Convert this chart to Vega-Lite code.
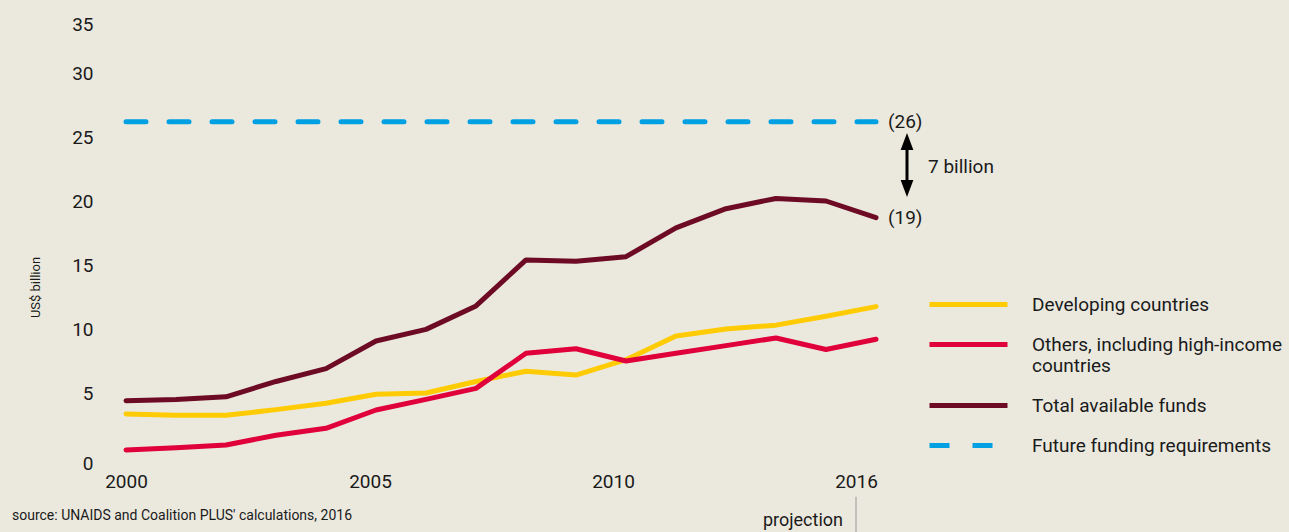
{
  "$schema": "https://vega.github.io/schema/vega-lite/v6.json",
  "width": 750,
  "height": 448,
  "autosize": {"type": "none"},
  "padding": {"left": 126, "top": 9, "right": 413, "bottom": 75},
  "background": "#EBE9DE",
  "title": {
    "text": "source: UNAIDS and Coalition PLUS' calculations, 2016",
    "orient": "bottom",
    "anchor": "start",
    "frame": "group",
    "dx": -114,
    "offset": -24,
    "font": "Roboto",
    "fontSize": 14,
    "fontWeight": "normal",
    "color": "#1a1a1a"
  },
  "config": {
    "view": {"stroke": null},
    "font": "Roboto"
  },
  "datasets": {
    "series": [
      {"year": 2000, "series": "Developing countries", "value": 3.36},
      {"year": 2001, "series": "Developing countries", "value": 3.26},
      {"year": 2002, "series": "Developing countries", "value": 3.26},
      {"year": 2003, "series": "Developing countries", "value": 3.7},
      {"year": 2004, "series": "Developing countries", "value": 4.2},
      {"year": 2005, "series": "Developing countries", "value": 4.9},
      {"year": 2006, "series": "Developing countries", "value": 5.0},
      {"year": 2007, "series": "Developing countries", "value": 5.9},
      {"year": 2008, "series": "Developing countries", "value": 6.7},
      {"year": 2009, "series": "Developing countries", "value": 6.4},
      {"year": 2010, "series": "Developing countries", "value": 7.6},
      {"year": 2011, "series": "Developing countries", "value": 9.45},
      {"year": 2012, "series": "Developing countries", "value": 10.0},
      {"year": 2013, "series": "Developing countries", "value": 10.3},
      {"year": 2014, "series": "Developing countries", "value": 11.0},
      {"year": 2015, "series": "Developing countries", "value": 11.75},
      {"year": 2000, "series": "Others, including high-income countries", "value": 0.55},
      {"year": 2001, "series": "Others, including high-income countries", "value": 0.73},
      {"year": 2002, "series": "Others, including high-income countries", "value": 0.94},
      {"year": 2003, "series": "Others, including high-income countries", "value": 1.7},
      {"year": 2004, "series": "Others, including high-income countries", "value": 2.24},
      {"year": 2005, "series": "Others, including high-income countries", "value": 3.67},
      {"year": 2006, "series": "Others, including high-income countries", "value": 4.5},
      {"year": 2007, "series": "Others, including high-income countries", "value": 5.36},
      {"year": 2008, "series": "Others, including high-income countries", "value": 8.1},
      {"year": 2009, "series": "Others, including high-income countries", "value": 8.46},
      {"year": 2010, "series": "Others, including high-income countries", "value": 7.5},
      {"year": 2011, "series": "Others, including high-income countries", "value": 8.1},
      {"year": 2012, "series": "Others, including high-income countries", "value": 8.7},
      {"year": 2013, "series": "Others, including high-income countries", "value": 9.3},
      {"year": 2014, "series": "Others, including high-income countries", "value": 8.4},
      {"year": 2015, "series": "Others, including high-income countries", "value": 9.2},
      {"year": 2000, "series": "Total available funds", "value": 4.4},
      {"year": 2001, "series": "Total available funds", "value": 4.5},
      {"year": 2002, "series": "Total available funds", "value": 4.7},
      {"year": 2003, "series": "Total available funds", "value": 5.9},
      {"year": 2004, "series": "Total available funds", "value": 6.9},
      {"year": 2005, "series": "Total available funds", "value": 9.06},
      {"year": 2006, "series": "Total available funds", "value": 9.97},
      {"year": 2007, "series": "Total available funds", "value": 11.8},
      {"year": 2008, "series": "Total available funds", "value": 15.4},
      {"year": 2009, "series": "Total available funds", "value": 15.3},
      {"year": 2010, "series": "Total available funds", "value": 15.65},
      {"year": 2011, "series": "Total available funds", "value": 17.9},
      {"year": 2012, "series": "Total available funds", "value": 19.4},
      {"year": 2013, "series": "Total available funds", "value": 20.2},
      {"year": 2014, "series": "Total available funds", "value": 20.0},
      {"year": 2015, "series": "Total available funds", "value": 18.7},
      {"year": 2000, "series": "Future funding requirements", "value": 26.2},
      {"year": 2015, "series": "Future funding requirements", "value": 26.2}
    ],
    "labels": [
      {"year": 2015, "value": 26.2, "text": "(26)"},
      {"year": 2015, "value": 18.7, "text": "(19)"}
    ]
  },
  "layer": [
    {
      "data": {"name": "series"},
      "mark": {"type": "line", "strokeWidth": 5, "strokeCap": "round", "strokeJoin": "round"},
      "encoding": {
        "x": {
          "field": "year",
          "type": "quantitative",
          "scale": {"domain": [2000, 2015], "nice": false, "zero": false},
          "axis": {
            "title": null,
            "values": [2000, 2004.88, 2009.74, 2014.6],
            "labelExpr": "datum.value < 2001 ? '2000' : datum.value < 2006 ? '2005' : datum.value < 2011 ? '2010' : '2016'",
            "grid": false,
            "domain": false,
            "ticks": false,
            "labelPadding": 15,
            "labelFontSize": 19,
            "labelColor": "#1a1a1a",
            "labelFont": "Roboto",
            "labelFlush": false,
            "labelOverlap": false
          }
        },
        "y": {
          "field": "value",
          "type": "quantitative",
          "scale": {"domain": [0, 35], "nice": false},
          "axis": {
            "title": "US$ billion",
            "titleFontSize": 13,
            "titleFontWeight": "normal",
            "titleColor": "#1a1a1a",
            "titleFont": "Roboto",
            "titleX": -84,
            "titleY": 278,
            "values": [0, 5, 10, 15, 20, 25, 30, 35],
            "grid": false,
            "domain": false,
            "ticks": false,
            "labelPadding": 33,
            "labelFontSize": 19,
            "labelColor": "#1a1a1a",
            "labelFont": "Roboto",
            "labelFlush": false,
            "labelOffset": {"condition": [{"test": "datum.value == 35", "value": 15}, {"test": "datum.value == 0", "value": 6}], "value": 0}
          }
        },
        "color": {
          "field": "series",
          "type": "nominal",
          "sort": null,
          "scale": {
            "domain": ["Developing countries", "Others, including high-income countries", "Total available funds", "Future funding requirements"],
            "range": ["#FFCB05", "#E0003A", "#6D0A24", "#00A0E2"]
          },
          "legend": {
            "title": null,
            "orient": "none",
            "legendX": 830,
            "legendY": 283,
            "padding": 0,
            "symbolType": "M-3.9,0H3.9",
            "symbolSize": 400,
            "symbolStrokeWidth": 5,
            "labelFontSize": 19,
            "labelFont": "Roboto",
            "labelColor": "#1a1a1a",
            "labelOffset": 51,
            "labelLimit": 400,
            "rowPadding": 17,
            "labelExpr": "datum.label == 'Others, including high-income countries' ? ['Others, including high-income', 'countries'] : datum.label"
          }
        },
        "strokeDash": {
          "field": "series",
          "type": "nominal",
          "sort": null,
          "scale": {
            "domain": ["Developing countries", "Others, including high-income countries", "Total available funds", "Future funding requirements"],
            "range": [[1000, 0], [1000, 0], [1000, 0], [20, 23]]
          }
        }
      }
    },
    {
      "data": {"name": "labels"},
      "mark": {"type": "text", "align": "left", "baseline": "middle", "dx": 12, "fontSize": 19, "font": "Roboto", "color": "#1a1a1a"},
      "encoding": {
        "x": {"field": "year", "type": "quantitative"},
        "y": {"field": "value", "type": "quantitative"},
        "text": {"field": "text"}
      }
    },
    {
      "data": {"values": [{}]},
      "mark": {"type": "text", "align": "left", "baseline": "middle", "dx": 52, "fontSize": 19, "font": "Roboto", "color": "#1a1a1a", "text": "7 billion"},
      "encoding": {
        "x": {"datum": 2015},
        "y": {"datum": 22.66}
      }
    },
    {
      "data": {"values": [{}]},
      "mark": {"type": "rule", "strokeWidth": 3, "color": "#000000", "xOffset": 31},
      "encoding": {
        "x": {"datum": 2015},
        "y": {"datum": 24.4},
        "y2": {"datum": 21.2}
      }
    },
    {
      "data": {"values": [{}]},
      "mark": {"type": "point", "filled": true, "color": "#000000", "opacity": 1, "size": 289, "shape": "M-0.75,1L0,-1L0.75,1Z", "xOffset": 31},
      "encoding": {
        "x": {"datum": 2015},
        "y": {"datum": 24.65}
      }
    },
    {
      "data": {"values": [{}]},
      "mark": {"type": "point", "filled": true, "color": "#000000", "opacity": 1, "size": 289, "shape": "M-0.75,-1L0,1L0.75,-1Z", "xOffset": 31},
      "encoding": {
        "x": {"datum": 2015},
        "y": {"datum": 20.98}
      }
    },
    {
      "data": {"values": [{}]},
      "mark": {"type": "rule", "strokeWidth": 1, "color": "#999999"},
      "encoding": {
        "x": {"datum": 2014.6},
        "y": {"datum": -3.1},
        "y2": {"datum": -5.9}
      }
    },
    {
      "data": {"values": [{}]},
      "mark": {"type": "text", "align": "right", "baseline": "middle", "dx": -13, "fontSize": 18, "font": "Roboto", "color": "#1a1a1a", "text": "projection"},
      "encoding": {
        "x": {"datum": 2014.6},
        "y": {"datum": -5.0}
      }
    }
  ]
}
